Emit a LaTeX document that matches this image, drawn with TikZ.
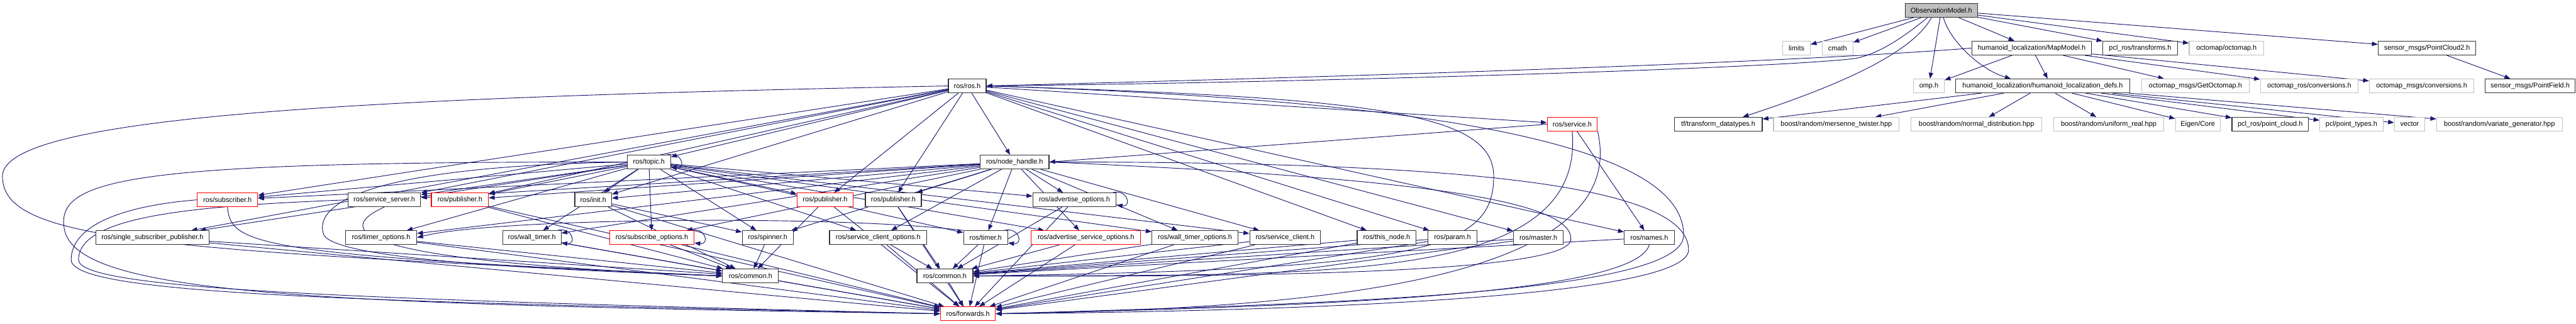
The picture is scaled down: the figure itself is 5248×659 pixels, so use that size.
\documentclass[tikz,border=0pt]{standalone}
\usepackage{fontspec}
\setmainfont{Liberation Sans}
\usetikzlibrary{arrows.meta}
\definecolor{edgeblue}{HTML}{191970}
\definecolor{lgray}{HTML}{C0C0C0}
\definecolor{fgray}{HTML}{BFBFBF}
\pgfdeclarelayer{bg}
\pgfsetlayers{bg,main}
\begin{document}
\begin{tikzpicture}[x=1pt,y=1pt,
 nb/.style={draw=black!80, line width=1.5pt, rectangle, minimum height=28pt, inner sep=0pt, font=\fontsize{14}{16}\selectfont, fill=white},
 gb/.style={nb, draw=lgray},
 rb/.style={nb, draw=red},
 dep/.style={draw=edgeblue, line width=1.2pt, -{Triangle[length=12pt,width=9pt]}},
]
\useasboundingbox (0,0) rectangle (5248,659);
% row 0
\node[nb, fill=fgray, minimum width=148pt] (OM) at (3955,638) {ObservationModel.h};
% row 1
\node[gb, minimum width=56pt] (limits) at (3660,561) {limits};
\node[gb, minimum width=63pt] (cmath) at (3743.5,561) {cmath};
\node[nb, minimum width=244pt] (MM) at (4139,561) {humanoid\_localization/MapModel.h};
\node[nb, minimum width=152pt] (pcltf) at (4360,561) {pcl\_ros/transforms.h};
\node[gb, minimum width=152pt] (octomap) at (4536,561) {octomap/octomap.h};
\node[nb, minimum width=199pt] (pc2) at (4944.5,561) {sensor\_msgs/PointCloud2.h};
% row 2
\node[nb, minimum width=77pt] (ros) at (1970.5,484) {ros/ros.h};
\node[gb, minimum width=63pt] (omp) at (3929.5,484) {omp.h};
\node[nb, minimum width=355pt] (hdefs) at (4161.5,484) {humanoid\_localization/humanoid\_localization\_defs.h};
\node[gb, minimum width=219pt] (getocto) at (4472.5,484) {octomap\_msgs/GetOctomap.h};
\node[gb, minimum width=199pt] (octoros) at (4704.5,484) {octomap\_ros/conversions.h};
\node[gb, minimum width=213pt] (octomsgs) at (4933.5,484) {octomap\_msgs/conversions.h};
\node[nb, minimum width=183pt] (pfield) at (5154.5,484) {sensor\_msgs/PointField.h};
% row 3
\node[rb, minimum width=102pt] (service) at (3203,406) {ros/service.h};
\node[nb, minimum width=179pt] (tfdt) at (3500.5,406) {tf/transform\_datatypes.h};
\node[gb, minimum width=256pt] (mersenne) at (3741,406) {boost/random/mersenne\_twister.hpp};
\node[gb, minimum width=267pt] (normal) at (4026.5,406) {boost/random/normal\_distribution.hpp};
\node[gb, minimum width=224pt] (uniform) at (4296,406) {boost/random/uniform\_real.hpp};
\node[gb, minimum width=91pt] (eigen) at (4477.5,406) {Eigen/Core};
\node[nb, minimum width=156pt] (pclpc) at (4625,406) {pcl\_ros/point\_cloud.h};
\node[gb, minimum width=129pt] (pcltypes) at (4790.5,406) {pcl/point\_types.h};
\node[gb, minimum width=62pt] (vector) at (4909,406) {vector};
\node[gb, minimum width=256pt] (variate) at (5092,406) {boost/random/variate\_generator.hpp};
% row 4
\node[nb, minimum width=88pt] (topic) at (1322,329) {ros/topic.h};
\node[nb, minimum width=140pt] (nh) at (2067,329) {ros/node\_handle.h};
% row 5
\node[rb, minimum width=123pt] (subscriber) at (463.5,252) {ros/subscriber.h};
\node[nb, minimum width=148pt] (sserver) at (783,252) {ros/service\_server.h};
\node[rb, minimum width=116pt] (pubA) at (937,252) {ros/publisher.h};
\node[nb, minimum width=75pt] (init) at (1208.5,252) {ros/init.h};
\node[rb, minimum width=114pt] (pubB) at (1681,252) {ros/publisher.h};
\node[nb, minimum width=114pt] (pubC) at (1820,252) {ros/publisher.h};
\node[nb, minimum width=170pt] (advopt) at (2189,252) {ros/advertise\_options.h};
% row 6
\node[nb, minimum width=231pt] (ssp) at (310.5,175) {ros/single\_subscriber\_publisher.h};
\node[nb, minimum width=145pt] (timeropt) at (776.5,175) {ros/timer\_options.h};
\node[nb, minimum width=119pt] (walltimer) at (1083.5,175) {ros/wall\_timer.h};
\node[rb, minimum width=172pt] (subopt) at (1328,175) {ros/subscribe\_options.h};
\node[nb, minimum width=104pt] (spinner) at (1564,175) {ros/spinner.h};
\node[nb, minimum width=198pt] (scopt) at (1789,175) {ros/service\_client\_options.h};
\node[nb, minimum width=90pt] (timer) at (2008,175) {ros/timer.h};
\node[rb, minimum width=223pt] (advsrvopt) at (2212.5,175) {ros/advertise\_service\_options.h};
\node[nb, minimum width=175pt] (wtopt) at (2434.5,175) {ros/wall\_timer\_options.h};
\node[nb, minimum width=144pt] (sclient) at (2618,175) {ros/service\_client.h};
\node[nb, minimum width=120pt] (thisnode) at (2825,175) {ros/this\_node.h};
\node[nb, minimum width=100pt] (param) at (2959,175) {ros/param.h};
\node[nb, minimum width=102pt] (master) at (3134,175) {ros/master.h};
\node[nb, minimum width=102pt] (names) at (3360,175) {ros/names.h};
% row 7, 8
\node[nb, minimum width=114pt] (commonA) at (1529,97) {ros/common.h};
\node[nb, minimum width=114pt] (commonB) at (1925,97) {ros/common.h};
\node[rb, minimum width=112pt] (fwd) at (1972,20) {ros/forwards.h};

\begin{pgfonlayer}{bg}
% ObservationModel
\foreach \t in {limits,cmath,omp,MM,pcltf,octomap,pc2} \draw[dep] (OM) -- (\t);
\draw[dep] ([xshift=-28pt]OM.south) .. controls (3880,585) and (3830,550) .. (3780,540) .. controls (3600,518) and (2600,490) .. (ros.east);
\draw[dep] ([xshift=-20pt]OM.south) .. controls (3890,540) and (3700,470) .. ([xshift=50pt]tfdt.north);
\draw[dep] ([xshift=4pt]OM.south) .. controls (3975,570) and (4040,515) .. ([xshift=-65pt]hdefs.north);
% MapModel
\draw[dep] (MM.west) .. controls (3750,540) and (3200,515) .. (ros.east);
\draw[dep] (MM) -- (omp);
\draw[dep] (MM) -- ([xshift=10pt]hdefs.north);
\foreach \t in {getocto,octoros,octomsgs} \draw[dep] (MM) -- (\t);
% defs
\foreach \t in {tfdt,mersenne,normal,uniform,eigen,pclpc,pcltypes,vector,variate} \draw[dep] (hdefs) -- (\t);
\draw[dep] (pc2) -- (pfield);
% ros.h
\foreach \t in {nh,topic,service,subscriber,sserver,pubA,init,ssp,pubB,pubC,thisnode,param,master,names} \draw[dep] (ros) -- (\t);
\draw[dep] (ros.west) .. controls (700,460) and (5,420) .. (5,300) .. controls (5,170) and (300,150) .. (commonA.west);
\draw[dep] (ros.east) .. controls (2800,460) and (3043,430) .. (3043,300) .. controls (3043,150) and (2900,110) .. (commonB.east);
\draw[dep] (ros.east) .. controls (3100,450) and (3430,330) .. (3430,180) .. controls (3430,60) and (2700,40) .. (fwd.east);
% service.h
\draw[dep] (service.west) -- (nh.east);
\draw[dep] (service) -- (names);
\draw[dep] (service.south) .. controls (3230,80) and (2700,100) .. (commonB.east);
\draw[dep] (service.south east) .. controls (3330,70) and (2600,30) .. (fwd.east);
% node_handle.h
\foreach \t in {subscriber,sserver,pubA,pubC,advopt,init,walltimer,subopt,spinner,scopt,timer,advsrvopt,wtopt,sclient,timeropt} \draw[dep] (nh) -- (\t);
\draw[dep] (nh.east) .. controls (2800,300) and (3210,260) .. (3200,170) .. controls (3190,100) and (2500,95) .. (commonB.east);
\draw[dep] (nh.east) .. controls (3000,330) and (3440,280) .. (3440,150) .. controls (3440,50) and (2600,25) .. (fwd.east);
% topic.h
\foreach \t in {pubA,subscriber,sserver,ssp,timeropt,init,walltimer,subopt,spinner,pubB,scopt,timer,advsrvopt,wtopt,sclient,advopt} \draw[dep] (topic) -- (\t);
\draw[dep] (topic.west) .. controls (700,320) and (640,230) .. (660,180) .. controls (690,130) and (1100,110) .. (commonA.west);
\draw[dep] (topic.west) .. controls (300,330) and (120,300) .. (130,200) .. controls (140,60) and (600,40) .. (fwd.west);
% self loops
\foreach \n in {topic,walltimer,subopt,timer,advopt}
  \draw[dep] ([xshift=-8pt]\n.north east) .. controls +(30,8) and +(32,-4) .. ([yshift=4pt]\n.south east);
% lower level
\draw[dep] (subscriber.west) .. controls (250,240) and (145,200) .. (145,130) .. controls (145,60) and (700,45) .. (fwd.west);
\draw[dep] (sserver.west) .. controls (400,240) and (160,220) .. (160,130) .. controls (160,70) and (700,50) .. (fwd.west);
\draw[dep] (subscriber.south) .. controls (470,160) and (520,140) .. (commonA.west);
\draw[dep] (sserver.south) .. controls (700,200) and (650,130) .. (commonA.west);
\foreach \s in {ssp,timeropt,pubA,init,walltimer,subopt,spinner,pubB} \draw[dep] (\s) -- (commonA);
\foreach \s in {ssp,timeropt,pubA,init,walltimer,subopt,pubB,pubC,scopt,timer,advopt,advsrvopt,wtopt,sclient,thisnode,param,master} \draw[dep] (\s) -- (fwd);
\foreach \s in {pubC,scopt,timer,advopt,advsrvopt,wtopt,sclient,thisnode,param,master,names} \draw[dep] (\s) -- (commonB);
\draw[dep] (names.south) .. controls (3330,60) and (2700,35) .. (fwd.east);
\draw[dep] (init) -- (spinner);
\draw[dep] (timer.north west) .. controls (1700,222) and (1000,215) .. (timeropt.east);
\draw[dep] (commonA) -- (fwd);
\draw[dep] (commonB) -- (fwd);
\end{pgfonlayer}
\end{tikzpicture}
\end{document}
